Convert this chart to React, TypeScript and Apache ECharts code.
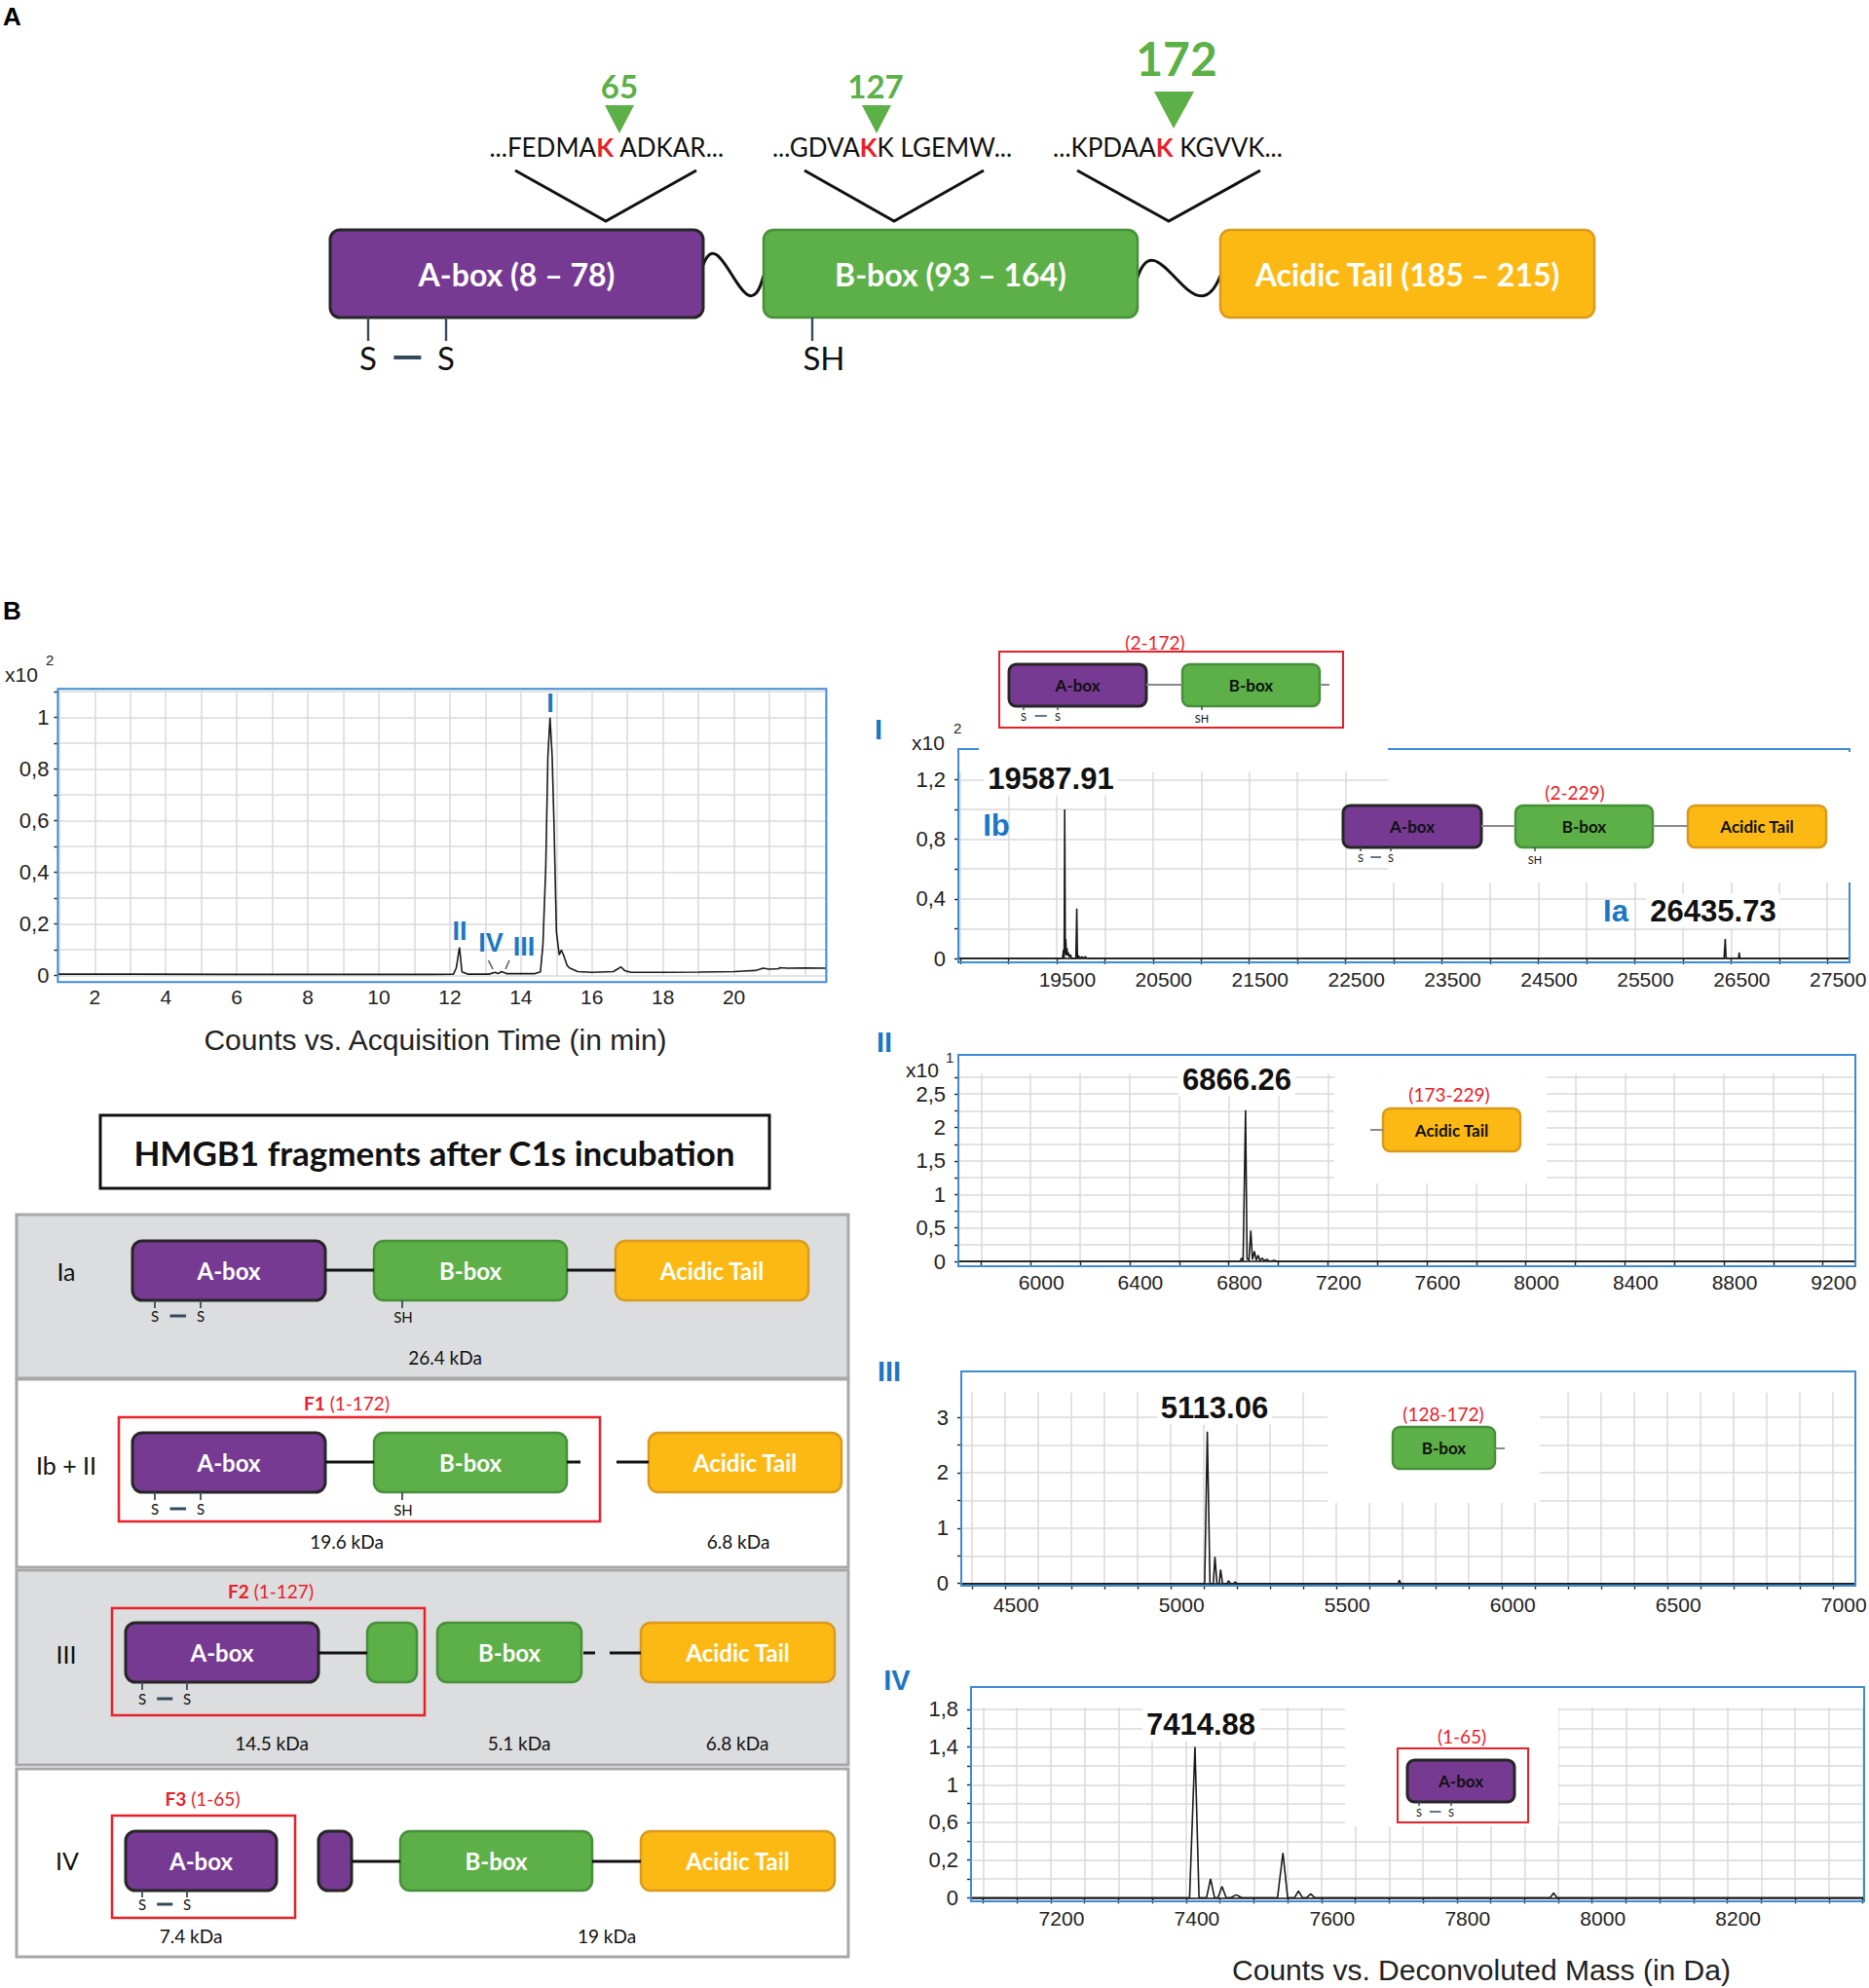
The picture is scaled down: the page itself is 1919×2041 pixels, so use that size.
import React, { useEffect, useRef } from "react";
import * as echarts from "echarts";

// ---------------- data ----------------
// Total ion chromatogram (time in min, counts x10^2)
const chromTrace: [number, number][] = [
  [0.96, 0.006], [3, 0.006], [6, 0.005], [9, 0.005], [11.5, 0.005], [12.1, 0.006],
  [12.18, 0.03], [12.27, 0.11], [12.34, 0.015], [12.5, 0.006], [13.1, 0.006],
  [13.27, 0.013], [13.36, 0.008], [13.45, 0.016], [13.6, 0.008], [14.4, 0.008],
  [14.55, 0.015], [14.62, 0.12], [14.7, 0.42], [14.76, 0.85], [14.82, 1.0],
  [14.88, 0.85], [14.93, 0.6], [15.0, 0.17], [15.08, 0.08], [15.14, 0.1], [15.2, 0.08],
  [15.3, 0.04], [15.37, 0.03], [15.6, 0.016], [16.0, 0.013], [16.6, 0.016],
  [16.75, 0.028], [16.82, 0.034], [16.92, 0.02], [17.1, 0.013], [18, 0.013],
  [19, 0.014], [20, 0.016], [20.6, 0.02], [20.82, 0.029], [21.0, 0.025],
  [21.25, 0.027], [21.3, 0.031], [21.5, 0.029], [22, 0.03], [22.6, 0.029],
];
// Deconvoluted spectra (mass in Da, counts in displayed units)
const specI: [number, number][] = [
  [18480, 0], [19560, 0], [19572, 0.06], [19578, 0], [19584, 1.0], [19590, 0.03],
  [19595, 0.13], [19601, 0.02], [19607, 0.07], [19614, 0.02], [19622, 0.04],
  [19630, 0.01], [19645, 0.025], [19655, 0], [19700, 0], [19709, 0.335], [19716, 0],
  [19728, 0.02], [19738, 0], [19765, 0.012], [19772, 0], [19800, 0.012], [19808, 0],
  [26428, 0], [26440, 0.13], [26448, 0.01], [26455, 0], [26578, 0], [26585, 0.04],
  [26592, 0], [27730, 0],
];
const specII: [number, number][] = [
  [5708, 0], [6845, 0], [6852, 0.05], [6858, 0], [6868, 2.26], [6874, 0.04],
  [6882, 0.02], [6889, 0.46], [6896, 0.03], [6904, 0.15], [6911, 0.02], [6919, 0.09],
  [6926, 0.01], [6936, 0.05], [6943, 0.01], [6956, 0.03], [6963, 0], [6985, 0.015],
  [6993, 0], [9331, 0],
];
const specIII: [number, number][] = [
  [4367, 0], [5102, 0], [5110, 2.74], [5118, 0], [5128, 0], [5133, 0.48], [5139, 0],
  [5146, 0], [5150, 0.25], [5156, 0], [5170, 0], [5174, 0.05], [5180, 0], [5190, 0],
  [5194, 0.03], [5199, 0], [5686, 0], [5690, 0.06], [5694, 0], [7067, 0],
];
const specIV: [number, number][] = [
  [7082, 0], [7405, 0], [7413, 1.6], [7419, 0], [7430, 0], [7436, 0.2], [7442, 0],
  [7447, 0], [7453, 0.12], [7459, 0], [7466, 0], [7474, 0.03], [7482, 0], [7535, 0],
  [7543, 0.476], [7550, 0], [7560, 0], [7566, 0.07], [7572, 0], [7578, 0], [7584, 0.04],
  [7590, 0], [7938, 0], [7943, 0.05], [7948, 0], [8402, 0],
];

// tick labels
const chromXLabels = [2, 4, 6, 8, 10, 12, 14, 16, 18, 20];
const chromYLabels = [0, 0.2, 0.4, 0.6, 0.8, 1];
const specIXLabels = [19500, 20500, 21500, 22500, 23500, 24500, 25500, 26500, 27500];
const specIYLabels = [0, 0.4, 0.8, 1.2];
const specIIXLabels = [6000, 6400, 6800, 7200, 7600, 8000, 8400, 8800, 9200];
const specIIYLabels = [0, 0.5, 1, 1.5, 2, 2.5];
const specIIIXLabels = [4500, 5000, 5500, 6000, 6500, 7000];
const specIIIYLabels = [0, 1, 2, 3];
const specIVXLabels = [7200, 7400, 7600, 7800, 8000, 8200];
const specIVYLabelPos = [0, 0.4, 0.8, 1.2, 1.6, 2.0];
const specIVYLabelText = ["0", "0,2", "0,6", "1", "1,4", "1,8"];

// -------------- styling --------------
const ARIAL = '"Liberation Sans", Arial, Helvetica, sans-serif';
const CAL = 'Lato, "Open Sans", "Noto Sans", sans-serif';
const PURPLE = "#763a92";
const PURPLE_EDGE = "#262626";
const GREEN = "#5cb047";
const GREEN_EDGE = "#47903a";
const ORANGE = "#fdb913";
const ORANGE_EDGE = "#d99a1d";
const BLUE = "#1c77c3";
const FRAME = "#3e8ad4";
const RED = "#e8202a";
const GRIDLINE = "#dadada";

const range = (a: number, b: number, s: number) => {
  const r: number[] = [];
  for (let i = 0; a + i * s <= b + 1e-9; i++) r.push(+(a + i * s).toFixed(4));
  return r;
};
const comma = (v: number) => String(+(+v).toFixed(3)).replace(".", ",");

// -------------- graphic helpers --------------
const txt = (x: number, y: number, text: string, font: string, fill = "#111", align = "center", extra: any = {}, z = 20) => ({
  type: "text", x, y, z,
  style: { text, font, fill, align, verticalAlign: "middle", textAlign: align, textVerticalAlign: "middle", ...extra },
});
const ln = (x1: number, y1: number, x2: number, y2: number, stroke = "#111", lineWidth = 2, z = 15) => ({
  type: "line", z, shape: { x1, y1, x2, y2 }, style: { stroke, lineWidth },
});
const rect = (x: number, y: number, width: number, height: number, fill: string, stroke: string | null, lineWidth = 2, r = 0, z = 10) => ({
  type: "rect", z, shape: { x, y, width, height, r },
  style: { fill, stroke: stroke || "none", lineWidth },
});
const box = (x: number, y: number, w: number, h: number, kind: string, label: string, font: string, textFill = "#fff") => {
  const fill = kind === "A" ? PURPLE : kind === "B" ? GREEN : ORANGE;
  const stroke = kind === "A" ? PURPLE_EDGE : kind === "B" ? GREEN_EDGE : ORANGE_EDGE;
  const out: any[] = [rect(x, y, w, h, fill, stroke, kind === "A" ? 3 : 2.5, Math.min(10, h * 0.17), 14)];
  if (label) out.push(txt(x + w / 2, y + h / 2, label, font, textFill, "center", {}, 16));
  return out;
};
const ss = (xa: number, xb: number, yTop: number, len: number, textY: number, fs: number, lw: number) => [
  ln(xa, yTop, xa, yTop + len, "#3c4b5c", Math.max(1.5, lw * 0.6)),
  ln(xb, yTop, xb, yTop + len, "#3c4b5c", Math.max(1.5, lw * 0.6)),
  txt(xa, textY, "S", `${fs}px ${CAL}`, "#111"),
  txt(xb, textY, "S", `${fs}px ${CAL}`, "#111"),
  ln(xa + (xb - xa) * 0.33, textY, xa + (xb - xa) * 0.68, textY, "#34495e", lw),
];
const sh = (x: number, yTop: number, len: number, tx: number, textY: number, fs: number, lw: number) => [
  ln(x, yTop, x, yTop + len, "#3c4b5c", Math.max(1.5, lw * 0.6)),
  txt(tx, textY, "SH", `${fs}px ${CAL}`, "#111"),
];

function buildGraphics() {
  const g: any[] = [];
  const push = (...a: any[]) => a.forEach((e) => (Array.isArray(e) ? g.push(...e) : g.push(e)));

  // ===== Panel A =====
  push(txt(3, 17, "A", `bold 26px ${ARIAL}`, "#000", "left"));
  push(txt(636, 88, "65", `bold 33px ${CAL}`, GREEN));
  push(txt(899, 88, "127", `bold 33px ${CAL}`, GREEN));
  push(txt(1208, 59, "172", `bold 48px ${CAL}`, GREEN));
  push({ type: "polygon", z: 15, shape: { points: [[621, 108], [651, 108], [636, 137]] }, style: { fill: GREEN } });
  push({ type: "polygon", z: 15, shape: { points: [[885, 108], [915, 108], [900, 137]] }, style: { fill: GREEN } });
  push({ type: "polygon", z: 15, shape: { points: [[1185, 94], [1226, 94], [1205, 132]] }, style: { fill: GREEN } });
  const seqRich = { r: { fill: RED, color: RED, font: `bold 26px ${CAL}` } };
  push(txt(623, 151, "...FEDMA{r|K} ADKAR...", `26px ${CAL}`, "#111", "center", { rich: seqRich }));
  push(txt(916, 151, "...GDVA{r|K}K LGEMW...", `26px ${CAL}`, "#111", "center", { rich: seqRich }));
  push(txt(1199, 151, "...KPDAA{r|K} KGVVK...", `26px ${CAL}`, "#111", "center", { rich: seqRich }));
  [[529, 622, 715], [826, 918, 1010], [1106, 1200, 1294]].forEach(([a, m, b]) => {
    push({ type: "polyline", z: 15, shape: { points: [[a, 175], [m, 227], [b, 175]] }, style: { stroke: "#111", lineWidth: 3, fill: "none" } });
  });
  push(box(339, 236, 383, 90, "A", "A-box (8 – 78)", `bold 32px ${CAL}`));
  push(box(784, 236, 384, 90, "B", "B-box (93 – 164)", `bold 32px ${CAL}`));
  push(box(1253, 236, 384, 90, "T", "Acidic Tail (185 – 215)", `bold 32px ${CAL}`));
  push({ type: "bezierCurve", z: 13, shape: { x1: 722, y1: 272, cpx1: 740, cpy1: 222, cpx2: 766, cpy2: 352, x2: 784, y2: 283 }, style: { stroke: "#111", lineWidth: 3, fill: "none" } });
  push({ type: "bezierCurve", z: 13, shape: { x1: 1168, y1: 285, cpx1: 1188, cpy1: 222, cpx2: 1226, cpy2: 352, x2: 1253, y2: 283 }, style: { stroke: "#111", lineWidth: 3, fill: "none" } });
  push(ss(378, 458, 326, 24, 367, 33, 4));
  push(sh(834, 326, 24, 846, 367, 33, 4));

  // ===== Panel B : chromatogram decorations =====
  push(txt(3, 627, "B", `bold 26px ${ARIAL}`, "#000", "left"));
  push(rect(59.4, 707.3, 789, 301, "none", FRAME, 2, 0, 9));
  push(txt(5, 692, "x10", `21px ${ARIAL}`, "#222", "left"));
  push(txt(47, 677, "2", `15px ${ARIAL}`, "#222", "left"));
  push(txt(565, 722, "I", `bold 27px ${ARIAL}`, BLUE));
  push(txt(472, 956, "II", `bold 27px ${ARIAL}`, BLUE));
  push(txt(504, 968, "IV", `bold 27px ${ARIAL}`, BLUE));
  push(txt(538, 972, "III", `bold 27px ${ARIAL}`, BLUE));
  push(ln(501.5, 986, 506, 995, "#555", 1.5));
  push(ln(523, 986, 519, 995, "#555", 1.5));
  push(txt(447, 1067, "Counts vs. Acquisition Time (in min)", `30px ${ARIAL}`, "#222"));

  // ===== Title box =====
  push(rect(103, 1145, 687, 75, "#fff", "#111", 3, 0, 10));
  push(txt(446, 1183, "HMGB1 fragments after C1s incubation", `bold 35px ${CAL}`, "#111"));

  // ===== fragment panels =====
  const F24 = `bold 24px ${CAL}`;
  const rowFont = `25px ${CAL}`;
  const kda = `19px ${CAL}`;
  push(rect(17, 1247, 854, 168, "#dcdddf", "#a8a8a8", 3, 0, 5));
  push(rect(17, 1416, 854, 193, "#ffffff", "#a8a8a8", 3, 0, 5));
  push(rect(17, 1612, 854, 200, "#dcdddf", "#a8a8a8", 3, 0, 5));
  push(rect(17, 1816, 854, 193, "#ffffff", "#a8a8a8", 3, 0, 5));

  // Ia
  push(txt(68, 1305, "Ia", rowFont));
  push(ln(334, 1304, 384, 1304, "#111", 3), ln(582, 1304, 632, 1304, "#111", 3));
  push(box(136, 1274, 198, 61, "A", "A-box", F24));
  push(box(384, 1274, 198, 61, "B", "B-box", F24));
  push(box(632, 1274, 198, 61, "T", "Acidic Tail", F24));
  push(ss(159, 206, 1335, 8, 1351, 15, 3));
  push(sh(413, 1335, 8, 414, 1352, 15, 3));
  push(txt(457, 1393, "26.4 kDa", kda));

  // Ib + II
  const fRich = { b: { fill: RED, color: RED, font: `bold 19px ${CAL}` } };
  push(txt(68, 1504, "Ib + II", rowFont));
  push(txt(356, 1440, "{b|F1} (1-172)", `19px ${CAL}`, RED, "center", { rich: fRich }));
  push(rect(122, 1455, 494, 107, "none", RED, 2.5, 0, 12));
  push(ln(334, 1501, 384, 1501, "#111", 3), ln(582, 1501, 596, 1501, "#111", 3), ln(633, 1501, 666, 1501, "#111", 3));
  push(box(136, 1471, 198, 61, "A", "A-box", F24));
  push(box(384, 1471, 198, 61, "B", "B-box", F24));
  push(box(666, 1471, 198, 61, "T", "Acidic Tail", F24));
  push(ss(159, 206, 1532, 8, 1549, 15, 3));
  push(sh(413, 1532, 8, 414, 1550, 15, 3));
  push(txt(356, 1582, "19.6 kDa", kda));
  push(txt(758, 1582, "6.8 kDa", kda));

  // III
  push(txt(68, 1698, "III", rowFont));
  push(txt(278, 1633, "{b|F2} (1-127)", `19px ${CAL}`, RED, "center", { rich: fRich }));
  push(rect(115, 1651, 321, 110, "none", RED, 2.5, 0, 12));
  push(ln(327, 1697, 377, 1697, "#111", 3), ln(599, 1697, 611, 1697, "#111", 3), ln(626, 1697, 658, 1697, "#111", 3));
  push(box(129, 1666, 198, 61, "A", "A-box", F24));
  push(box(377, 1666, 51, 61, "B", "", F24));
  push(box(449, 1666, 148, 61, "B", "B-box", F24));
  push(box(658, 1666, 199, 61, "T", "Acidic Tail", F24));
  push(ss(146, 192, 1727, 8, 1744, 15, 3));
  push(txt(279, 1789, "14.5 kDa", kda));
  push(txt(533, 1789, "5.1 kDa", kda));
  push(txt(757, 1789, "6.8 kDa", kda));

  // IV
  push(txt(69, 1910, "IV", rowFont));
  push(txt(208, 1846, "{b|F3} (1-65)", `19px ${CAL}`, RED, "center", { rich: fRich }));
  push(rect(115, 1864, 188, 105, "none", RED, 2.5, 0, 12));
  push(ln(361, 1911, 411, 1911, "#111", 3), ln(608, 1911, 658, 1911, "#111", 3));
  push(box(129, 1880, 155, 61, "A", "A-box", F24));
  push(box(327, 1880, 34, 61, "A", "", F24));
  push(box(411, 1880, 197, 61, "B", "B-box", F24));
  push(box(658, 1880, 199, 61, "T", "Acidic Tail", F24));
  push(ss(146, 192, 1941, 7, 1955, 15, 3));
  push(txt(196, 1987, "7.4 kDa", kda));
  push(txt(623, 1987, "19 kDa", kda));

  // ===== spectra decorations =====
  const peakFont = `bold 31px ${ARIAL}`;
  const whiteBg = { backgroundColor: "#fff", padding: [2, 4] };
  const insetFont = `bold 17px ${CAL}`;
  const redLab = `19px ${CAL}`;
  const gr = "#8a8a8a";
  const roman = `bold 29px ${ARIAL}`;

  // Spectrum I
  push(rect(984, 769, 915, 219, "none", FRAME, 2, 0, 9));
  push(rect(1005, 762, 420, 12, "#fff", null, 0, 0, 10));
  push(rect(1425, 772, 478, 134, "#fff", null, 0, 0, 10));
  push(txt(902, 749, "I", roman, BLUE));
  push(txt(936, 762, "x10", `21px ${ARIAL}`, "#222", "left"));
  push(txt(979, 747, "2", `15px ${ARIAL}`, "#222", "left"));
  push(txt(1079, 799, "19587.91", peakFont, "#111", "center", whiteBg));
  push(txt(1023, 847, "Ib", `bold 31px ${ARIAL}`, BLUE));
  push(txt(1659, 935, "Ia", `bold 31px ${ARIAL}`, BLUE));
  push(txt(1759, 935, "26435.73", peakFont, "#111", "center", whiteBg));
  push(txt(1186, 659, "(2-172)", redLab, RED));
  push(rect(1026, 669, 353, 78, "none", RED, 2, 0, 12));
  push(ln(1177, 703, 1214, 703, gr, 2), ln(1355, 703, 1365, 703, gr, 2));
  push(box(1036, 682, 141, 43, "A", "A-box", insetFont, "#111"));
  push(box(1214, 682, 141, 43, "B", "B-box", insetFont, "#111"));
  push(ss(1051, 1086, 725, 4, 735, 11, 1.5));
  push(sh(1234, 725, 4, 1234, 737, 11, 1.5));
  push(txt(1617, 813, "(2-229)", redLab, RED));
  push(ln(1521, 848, 1556, 848, gr, 2), ln(1697, 848, 1733, 848, gr, 2));
  push(box(1379, 827, 142, 43, "A", "A-box", insetFont, "#111"));
  push(box(1556, 827, 141, 43, "B", "B-box", insetFont, "#111"));
  push(box(1733, 827, 142, 43, "T", "Acidic Tail", insetFont, "#111"));
  push(ss(1397, 1428, 870, 4, 880, 11, 1.5));
  push(sh(1576, 870, 4, 1576, 882, 11, 1.5));

  // Spectrum II
  push(rect(984, 1083, 921, 217, "none", FRAME, 2, 0, 9));
  push(rect(1370, 1103, 218, 112, "#fff", null, 0, 0, 10));
  push(txt(908, 1070, "II", roman, BLUE));
  push(txt(930, 1098, "x10", `21px ${ARIAL}`, "#222", "left"));
  push(txt(971, 1085, "1", `15px ${ARIAL}`, "#222", "left"));
  push(txt(1270, 1108, "6866.26", peakFont, "#111", "center", whiteBg));
  push(txt(1488, 1123, "(173-229)", redLab, RED));
  push(ln(1407, 1160, 1420, 1160, gr, 2));
  push(box(1420, 1138, 141, 44, "T", "Acidic Tail", insetFont, "#111"));

  // Spectrum III
  push(rect(987, 1408, 918, 220, "none", FRAME, 2, 0, 9));
  push(rect(1363, 1428, 218, 115, "#fff", null, 0, 0, 10));
  push(txt(913, 1408, "III", roman, BLUE));
  push(txt(1247, 1445, "5113.06", peakFont, "#111", "center", whiteBg));
  push(txt(1482, 1451, "(128-172)", redLab, RED));
  push(ln(1535, 1487, 1545, 1487, gr, 2));
  push(box(1430, 1465, 105, 43, "B", "B-box", insetFont, "#111"));

  // Spectrum IV
  push(rect(997, 1732, 917, 220, "none", FRAME, 2, 0, 9));
  push(rect(1381, 1753, 219, 122, "#fff", null, 0, 0, 10));
  push(txt(921, 1725, "IV", roman, BLUE));
  push(txt(1233, 1770, "7414.88", peakFont, "#111", "center", whiteBg));
  push(txt(1501, 1782, "(1-65)", redLab, RED));
  push(rect(1435, 1795, 134, 76, "none", RED, 2, 0, 12));
  push(box(1445, 1807, 110, 43, "A", "A-box", insetFont, "#111"));
  push(ss(1457, 1490, 1850, 4, 1860, 11, 1.5));
  push(txt(1521, 2022, "Counts vs. Deconvoluted Mass (in Da)", `30px ${ARIAL}`, "#222"));
  return g;
}

// -------------- axes --------------
const mkX = (gi: number, min: number, max: number, ticks: number[], labels: number[], showLine: boolean, tickLen: number, shift: number) => ({
  type: "value", gridIndex: gi, min, max,
  axisLine: { show: showLine, onZero: false, lineStyle: { color: "#111", width: 1.6 } },
  axisTick: { show: tickLen > 0, customValues: ticks, length: tickLen, inside: false, lineStyle: { color: "#222", width: 1.4 } },
  minorTick: { show: false },
  axisLabel: {
    show: true, customValues: labels, fontFamily: ARIAL, fontSize: 21, color: "#222", margin: 11,
    padding: shift ? [0, 0, 0, shift * 2] : 0, formatter: (v: number) => String(v),
  },
  splitLine: { show: true, lineStyle: { color: GRIDLINE, width: 1.5 } },
});
const mkY = (gi: number, min: number, max: number, ticks: number[], labels: number[], showLine: boolean, fmt: (v: number) => string) => ({
  type: "value", gridIndex: gi, min, max,
  axisLine: { show: showLine, onZero: false, lineStyle: { color: "#111", width: 1.6 } },
  axisTick: { show: true, customValues: ticks, length: 4, inside: false, lineStyle: { color: "#222", width: 1.4 } },
  minorTick: { show: false },
  axisLabel: { show: true, customValues: labels, fontFamily: ARIAL, fontSize: 22, color: "#222", margin: showLine ? 13 : 9, formatter: fmt },
  splitLine: { show: true, lineStyle: { color: GRIDLINE, width: 1.5 } },
});

export default function App() {
  const ref = useRef<HTMLDivElement>(null);
  useEffect(() => {
    document.body.style.margin = "0";
    document.body.style.overflow = "hidden";
    if (!ref.current) return;
    const chart = echarts.init(ref.current, null, { renderer: "svg", width: 1919, height: 2041 });
    const grids = [
      { left: 59.4, top: 710.2, width: 789, height: 291.5 },
      { left: 984, top: 792.6, width: 915, height: 191.4 },
      { left: 984, top: 1102.6, width: 921, height: 192.4 },
      { left: 987, top: 1429.4, width: 918, height: 196.3 },
      { left: 997, top: 1753, width: 917, height: 195.3 },
    ].map((g) => ({ ...g, show: false, containLabel: false, outerBoundsMode: "none" }));
    const series = [chromTrace, specI, specII, specIII, specIV].map((d, i) => ({
      type: "line", xAxisIndex: i, yAxisIndex: i, data: d, showSymbol: false, symbol: "none",
      silent: true, clip: true, z: 3,
      lineStyle: { color: "#1a1a1a", width: i === 0 ? 1.6 : 1.6 },
    }));
    const option: any = {
      animation: false,
      backgroundColor: "#ffffff",
      grid: grids,
      xAxis: [
        mkX(0, 0.96, 22.6, range(1, 22, 1), chromXLabels, false, 0, 0),
        mkX(1, 18480, 27730, range(18500, 27500, 500), specIXLabels, true, 6, 11),
        mkX(2, 5708, 9331, range(5800, 9200, 200), specIIXLabels, true, 6, 11),
        mkX(3, 4367, 7067, range(4400, 7000, 100), specIIIXLabels, true, 6, 11),
        mkX(4, 7082, 8402, range(7100, 8400, 50), specIVXLabels, true, 6, 11),
      ],
      yAxis: [
        mkY(0, 0, 1.1, range(0, 1.1, 0.1), chromYLabels, false, comma),
        mkY(1, 0, 1.25, range(0, 1.2, 0.2), specIYLabels, true, comma),
        mkY(2, 0, 2.8, range(0, 2.75, 0.25), specIIYLabels, true, comma),
        mkY(3, 0, 3.45, range(0, 3.0, 0.5), specIIIYLabels, true, comma),
        mkY(4, 0, 2.02, range(0, 2.0, 0.2), specIVYLabelPos, true,
          (v: number) => specIVYLabelText[Math.round(v / 0.4)] ?? ""),
      ],
      series,
      graphic: { elements: buildGraphics() },
    };
    chart.setOption(option);
    return () => chart.dispose();
  }, []);
  return <div ref={ref} style={{ position: "absolute", left: 0, top: 0, width: 1919, height: 2041 }} />;
}
